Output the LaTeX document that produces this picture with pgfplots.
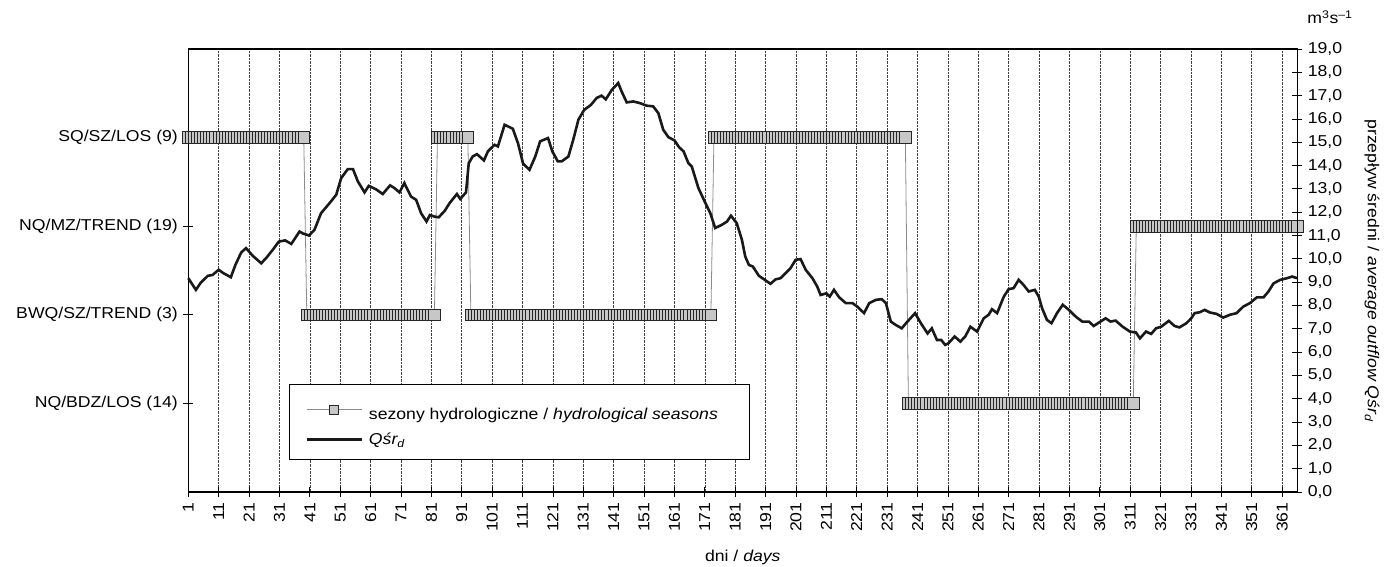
\documentclass[border=0pt]{standalone}
\usepackage{fontspec}
\setmainfont{Liberation Sans}[FakeStretch=1.12]
\usepackage{pgfplots}
\pgfplotsset{compat=1.18}
\pgfplotsset{
  myaxis/.style={at={(188.3bp,75bp)}, anchor=south west, scale only axis,
    width=1109bp, height=443bp, xmin=1, xmax=366, clip=false,
    /pgf/number format/assume math mode=true,
    font=\fontsize{15.8}{19}\selectfont,
    major tick length=10bp, tick align=center,
    tick style={black, line width=0.8bp},
    axis line style={line width=1.1bp}},
  seasons/.style={draw=black!45, line width=0.8bp, mark=square*, mark size=5.8bp,
    mark options={fill=black!22, draw=black!85, line width=0.75bp, solid}},
  seasonlegend/.style={legend image code/.code={
    \draw[mark repeat=2, mark phase=2, ##1, mark size=4.6bp] plot coordinates {(0bp,0bp) (27.5bp,0bp) (55bp,0bp)};}},
  qlegend/.style={legend image code/.code={
    \draw[##1] (0bp,0bp) -- (55bp,0bp);}},
}
\begin{document}
\fontsize{15.8}{19}\selectfont
\begin{tikzpicture}
\useasboundingbox (0,0) rectangle (1387bp,567bp);
\begin{axis}[myaxis, ymin=0, ymax=5, ytick={1,2,3,4},
  yticklabels={NQ/BDZ/LOS (14), BWQ/SZ/TREND (3), NQ/MZ/TREND (19), SQ/SZ/LOS (9)},
  ytick pos=left, xtick pos=bottom, xtick={1,11,...,361},
  xticklabel style={rotate=90, anchor=east},
  xmajorgrids, grid style={densely dotted, black!75, line width=0.6bp},
  xlabel={dni / \textit{days}},
  xlabel style={at={(axis description cs:0.5,-0.147)}, anchor=center}]
\addplot[seasons] coordinates {
(1,4) (2,4) (3,4) (4,4) (5,4) (6,4) (7,4) (8,4) (9,4) (10,4)
(11,4) (12,4) (13,4) (14,4) (15,4) (16,4) (17,4) (18,4) (19,4) (20,4)
(21,4) (22,4) (23,4) (24,4) (25,4) (26,4) (27,4) (28,4) (29,4) (30,4)
(31,4) (32,4) (33,4) (34,4) (35,4) (36,4) (37,4) (38,4) (39,4) (40,2)
(41,2) (42,2) (43,2) (44,2) (45,2) (46,2) (47,2) (48,2) (49,2) (50,2)
(51,2) (52,2) (53,2) (54,2) (55,2) (56,2) (57,2) (58,2) (59,2) (60,2)
(61,2) (62,2) (63,2) (64,2) (65,2) (66,2) (67,2) (68,2) (69,2) (70,2)
(71,2) (72,2) (73,2) (74,2) (75,2) (76,2) (77,2) (78,2) (79,2) (80,2)
(81,2) (82,2) (83,4) (84,4) (85,4) (86,4) (87,4) (88,4) (89,4) (90,4)
(91,4) (92,4) (93,4) (94,2) (95,2) (96,2) (97,2) (98,2) (99,2) (100,2)
(101,2) (102,2) (103,2) (104,2) (105,2) (106,2) (107,2) (108,2) (109,2) (110,2)
(111,2) (112,2) (113,2) (114,2) (115,2) (116,2) (117,2) (118,2) (119,2) (120,2)
(121,2) (122,2) (123,2) (124,2) (125,2) (126,2) (127,2) (128,2) (129,2) (130,2)
(131,2) (132,2) (133,2) (134,2) (135,2) (136,2) (137,2) (138,2) (139,2) (140,2)
(141,2) (142,2) (143,2) (144,2) (145,2) (146,2) (147,2) (148,2) (149,2) (150,2)
(151,2) (152,2) (153,2) (154,2) (155,2) (156,2) (157,2) (158,2) (159,2) (160,2)
(161,2) (162,2) (163,2) (164,2) (165,2) (166,2) (167,2) (168,2) (169,2) (170,2)
(171,2) (172,2) (173,2) (174,4) (175,4) (176,4) (177,4) (178,4) (179,4) (180,4)
(181,4) (182,4) (183,4) (184,4) (185,4) (186,4) (187,4) (188,4) (189,4) (190,4)
(191,4) (192,4) (193,4) (194,4) (195,4) (196,4) (197,4) (198,4) (199,4) (200,4)
(201,4) (202,4) (203,4) (204,4) (205,4) (206,4) (207,4) (208,4) (209,4) (210,4)
(211,4) (212,4) (213,4) (214,4) (215,4) (216,4) (217,4) (218,4) (219,4) (220,4)
(221,4) (222,4) (223,4) (224,4) (225,4) (226,4) (227,4) (228,4) (229,4) (230,4)
(231,4) (232,4) (233,4) (234,4) (235,4) (236,4) (237,4) (238,1) (239,1) (240,1)
(241,1) (242,1) (243,1) (244,1) (245,1) (246,1) (247,1) (248,1) (249,1) (250,1)
(251,1) (252,1) (253,1) (254,1) (255,1) (256,1) (257,1) (258,1) (259,1) (260,1)
(261,1) (262,1) (263,1) (264,1) (265,1) (266,1) (267,1) (268,1) (269,1) (270,1)
(271,1) (272,1) (273,1) (274,1) (275,1) (276,1) (277,1) (278,1) (279,1) (280,1)
(281,1) (282,1) (283,1) (284,1) (285,1) (286,1) (287,1) (288,1) (289,1) (290,1)
(291,1) (292,1) (293,1) (294,1) (295,1) (296,1) (297,1) (298,1) (299,1) (300,1)
(301,1) (302,1) (303,1) (304,1) (305,1) (306,1) (307,1) (308,1) (309,1) (310,1)
(311,1) (312,1) (313,3) (314,3) (315,3) (316,3) (317,3) (318,3) (319,3) (320,3)
(321,3) (322,3) (323,3) (324,3) (325,3) (326,3) (327,3) (328,3) (329,3) (330,3)
(331,3) (332,3) (333,3) (334,3) (335,3) (336,3) (337,3) (338,3) (339,3) (340,3)
(341,3) (342,3) (343,3) (344,3) (345,3) (346,3) (347,3) (348,3) (349,3) (350,3)
(351,3) (352,3) (353,3) (354,3) (355,3) (356,3) (357,3) (358,3) (359,3) (360,3)
(361,3) (362,3) (363,3) (364,3) (365,3) (366,3)
};
\end{axis}
\begin{axis}[myaxis, ymin=0, ymax=19, axis y line*=right, axis x line=none,
  ytick={0,1,...,19},
  yticklabel style={/pgf/number format/.cd, fixed, fixed zerofill, precision=1, use comma},
  legend cell align=left,
  legend style={at={(axis description cs:0.0908,0.2438)}, anchor=north west,
    draw=black, line width=0.8bp, fill=white, inner xsep=16bp, inner ysep=11bp,
    row sep=7bp, font=\fontsize{15.8}{19}\selectfont}]
\addlegendimage{seasons, seasonlegend}
\addlegendentry{\makebox[366bp][l]{\rule{0pt}{22bp}\hspace*{4bp}sezony hydrologiczne / \textit{hydrological seasons}}}
\addplot[black!90, line width=2.6bp, qlegend] coordinates {
(1,9.17) (3.5,8.67) (5,8.96) (7.4,9.27) (9,9.31) (11,9.53) (12.5,9.39) (15,9.21) (16.5,9.74) (18.4,10.27)
(20,10.46) (22.2,10.13) (25,9.81) (26.6,10.03) (28.8,10.39) (30.8,10.74) (32.9,10.79) (34.9,10.64) (37.6,11.17) (38.7,11.09)
(40.7,11.0) (42.5,11.24) (44.7,11.96) (47.5,12.39) (49.7,12.75) (51.3,13.46) (53.5,13.85) (55.2,13.85) (56.8,13.32) (59,12.85)
(60.4,13.13) (62.8,12.98) (65,12.78) (67.4,13.15) (68.8,13.04) (70.5,12.85) (72.1,13.25) (74.3,12.67) (76,12.53) (77.6,11.96)
(79.4,11.6) (80.5,11.88) (82.1,11.81) (83.4,11.78) (85.4,12.06) (87,12.39) (89.4,12.78) (90.5,12.57) (92.4,12.85) (93.3,14.1)
(94.6,14.39) (96,14.49) (98.3,14.22) (99.6,14.61) (101.8,14.89) (102.9,14.82) (105.1,15.75) (107.8,15.58) (109.5,14.96) (111.2,14.08)
(113.3,13.82) (115.2,14.39) (116.8,15.04) (119.4,15.18) (120.8,14.61) (122.6,14.18) (123.9,14.18) (126.1,14.39) (127.7,15.11) (129.4,15.97)
(131.3,16.39) (133.5,16.6) (135.4,16.9) (137,17.0) (138.4,16.84) (140.4,17.25) (142.5,17.54) (143.6,17.18) (145.3,16.71) (147.5,16.75)
(149.6,16.68) (151.8,16.57) (154,16.54) (155.7,16.25) (157.3,15.54) (159,15.22) (161,15.08) (162.5,14.79) (164,14.61) (165.6,14.1)
(166.7,13.96) (168.9,13.03) (171.2,12.39) (172.8,11.96) (174.4,11.32) (176.6,11.46) (178.3,11.6) (179.6,11.85) (181.5,11.53) (183.2,10.82)
(184.3,10.1) (185.5,9.74) (186.8,9.67) (188.8,9.27) (190.5,9.12) (192.6,8.93) (194.3,9.12) (195.9,9.17) (197.6,9.39) (199.2,9.6)
(200.9,9.96) (202.5,9.99) (204.2,9.53) (206.4,9.17) (208,8.81) (209.1,8.45) (211,8.52) (212.1,8.38) (213.5,8.67) (215.2,8.35)
(217.4,8.1) (219.6,8.1) (221.2,7.95) (223.4,7.67) (225.1,8.1) (227.3,8.24) (229.2,8.27) (230.6,8.1) (232.2,7.31) (233.9,7.16)
(235.8,7.02) (237.7,7.31) (240.2,7.67) (242.1,7.24) (244.3,6.8) (245.7,7.02) (247.4,6.52) (248.8,6.52) (250.1,6.31) (251.2,6.38)
(253.2,6.67) (255.1,6.45) (256.7,6.67) (258.4,7.09) (260.6,6.88) (262.8,7.45) (264.4,7.6) (265.5,7.84) (267.2,7.67) (269.4,8.38)
(271,8.7) (272.6,8.74) (274.3,9.1) (275.9,8.88) (277.6,8.6) (279.6,8.67) (280.9,8.38) (282,7.88) (283.6,7.38) (285.1,7.24)
(286.9,7.67) (288.8,8.03) (290.8,7.81) (293,7.53) (295.2,7.31) (297.4,7.31) (299,7.12) (301.2,7.31) (302.9,7.45) (304.5,7.31)
(306.2,7.35) (308.5,7.09) (310.9,6.88) (312.9,6.84) (314.2,6.59) (316.2,6.88) (317.9,6.78) (319.5,7.02) (321.2,7.09) (323.7,7.34)
(325.6,7.12) (327.2,7.06) (329.5,7.24) (331.1,7.45) (332.2,7.67) (333.9,7.71) (335.5,7.81) (337.2,7.7) (339.4,7.64) (341.6,7.48)
(343.8,7.6) (346,7.67) (348.2,7.95) (350.4,8.1) (352.7,8.35) (354.9,8.35) (356.5,8.6) (358.2,8.95) (360.4,9.1) (362.6,9.17)
(364.3,9.24) (365.9,9.17)
};
\addlegendentry{\makebox[366bp][l]{\hspace*{4bp}\textit{Qśr\textsubscript{d}}}}
\node[anchor=center] at (axis description cs:1.0295,1.072) {m\textsuperscript{3}s\textsuperscript{–1}};
\node[anchor=center, rotate=-90] at (axis description cs:1.0674,0.5) {przepływ średni / \textit{average outflow Qśr\textsubscript{d}}};
\end{axis}
\end{tikzpicture}
\end{document}
